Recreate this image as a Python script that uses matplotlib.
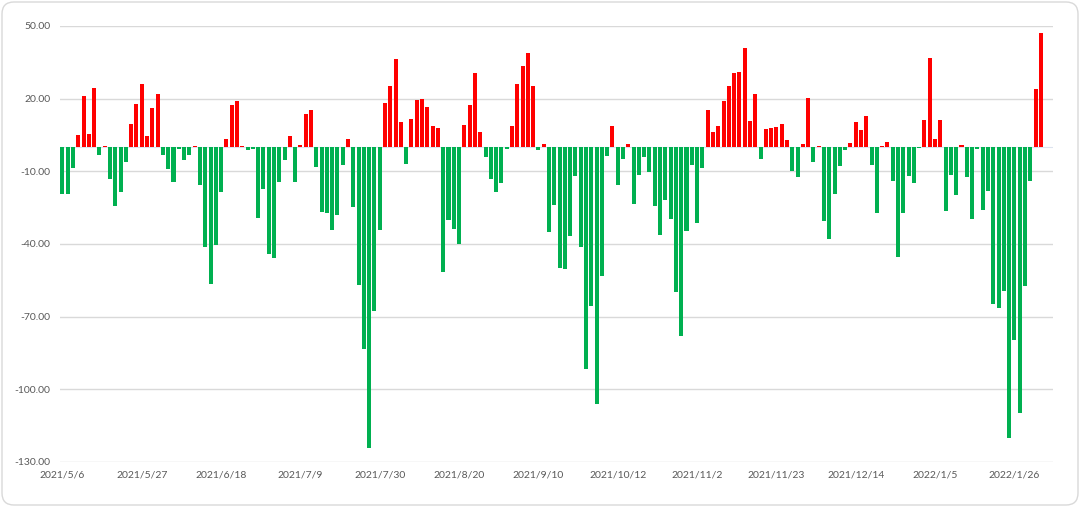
import numpy as np
import matplotlib
matplotlib.use("Agg")
import matplotlib.pyplot as plt
from matplotlib.patches import FancyBboxPatch

# values, one per trading day
values = [
    -19.5, -19.5, -8.7, 5.0, 21.2, 5.6, 24.5, -3.3, 0.5, -13.1,
    -24.3, -18.4, -6.1, 9.6, 17.9, 25.9, 4.5, 16.2, 22.0, -3.3,
    -9.1, -14.4, -1.0, -5.4, -3.3, 0.5, -15.8, -41.3, -56.4, -40.4,
    -18.4, 3.2, 17.2, 19.1, 0.5, -1.4, -1.0, -29.3, -17.3, -44.2,
    -45.8, -14.4, -5.4, 4.5, -14.4, 1.0, 13.6, 15.4, -8.3, -26.8,
    -27.2, -34.3, -28.2, -7.6, 3.2, -24.6, -57.1, -83.5, -124.3, -67.5,
    -34.3, 18.3, 25.3, 36.5, 10.5, -6.9, 11.4, 19.4, 19.7, 16.5,
    8.9, 7.8, -51.4, -30.0, -34.0, -40.2, 9.2, 17.2, 30.7, 6.3,
    -4.3, -13.1, -18.4, -14.9, -1.0, 8.9, 25.9, 33.4, 38.7, 25.3,
    -1.4, 1.4, -35.1, -23.8, -49.9, -50.2, -36.9, -12.0, -41.3, -91.7,
    -65.7, -105.9, -53.2, -3.6, 8.5, -15.8, -5.1, 1.4, -23.4, -11.6,
    -4.3, -10.2, -24.3, -36.2, -22.0, -29.7, -60.0, -78.0, -34.7, -7.2,
    -31.4, -8.7, 15.1, 6.3, 8.5, 19.1, 25.2, 30.7, 31.1, 40.7,
    10.7, 22.0, -5.1, 7.6, 7.8, 8.3, 9.6, 2.8, -9.9, -12.2,
    1.4, 20.1, -6.2, 0.5, -30.4, -38.0, -19.5, -8.0, -1.1, 1.7,
    10.5, 7.2, 12.9, -7.3, -27.1, 0.5, 2.1, -14.2, -45.3, -27.1,
    -12.0, -14.9, -0.4, 11.1, 36.9, 3.2, 11.1, -26.4, -11.6, -19.8,
    1.0, -12.2, -29.6, -1.0, -26.0, -18.0, -64.6, -66.4, -59.3, -119.9,
    -79.8, -109.6, -57.5, -14.2, 23.8, 46.9,
]

tick_labels = ["2021/5/6", "2021/5/27", "2021/6/18", "2021/7/9", "2021/7/30",
               "2021/8/20", "2021/9/10", "2021/10/12", "2021/11/2", "2021/11/23",
               "2021/12/14", "2022/1/5", "2022/1/26"]
label_step = 15

plt.rcParams['font.family'] = ['Lato', 'DejaVu Sans']

vals = np.array(values)
x = np.arange(len(vals))
colors = np.where(vals >= 0, '#FF0000', '#00B050')

fig = plt.figure(figsize=(10.8, 5.07), dpi=100)
border = FancyBboxPatch((0.02, 0.02), 10.76, 5.03,
                        boxstyle="round,pad=0,rounding_size=0.12",
                        transform=fig.dpi_scale_trans,
                        facecolor='white', edgecolor='#d9d9d9', lw=1, zorder=-10)
fig.patches.append(border)

ax = fig.add_axes([0.0556, 0.0888, 0.9194, 0.86])
ax.set_zorder(5)
ax.set_facecolor('none')
ax.bar(x, vals, width=0.76, color=colors, zorder=3)
ax.axhline(0, color='#dce3ee', lw=0.8, zorder=2)

ax.set_ylim(-130, 50)
ax.set_yticks(np.arange(-130, 51, 30))
ax.yaxis.set_major_formatter(matplotlib.ticker.FormatStrFormatter('%.2f'))
ax.set_xlim(-0.45, len(vals) + 1.3)
ax.set_xticks(x[::label_step])
ax.set_xticklabels(tick_labels)

ax.grid(axis='y', color='#d9d9d9', lw=1, zorder=0)
for s in ax.spines.values():
    s.set_visible(False)
ax.tick_params(length=0, labelsize=7.5, colors='#595959')
ax.tick_params(axis='y', pad=7)
ax.tick_params(axis='x', pad=6)

fig.savefig('out.png', dpi=100)
